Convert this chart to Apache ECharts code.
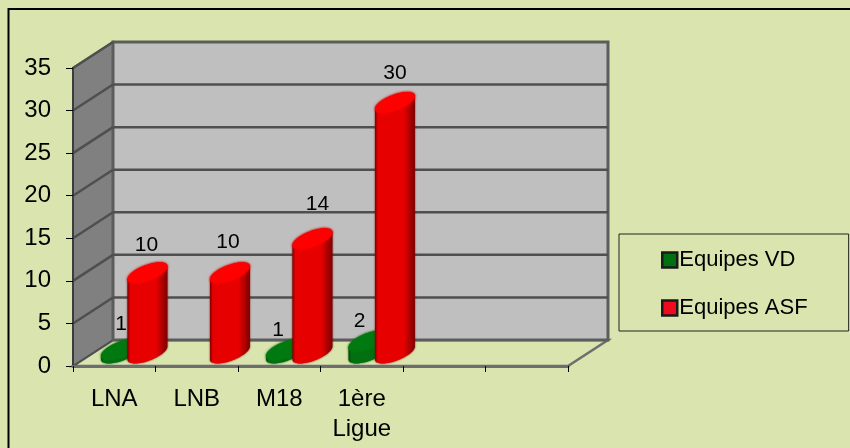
<!DOCTYPE html>
<html>
<head>
<meta charset="utf-8">
<title></title>
<script type="text/javascript" src="https://cdn.jsdelivr.net/npm/echarts@6/dist/echarts.min.js"></script>
<style>
html, body { margin: 0; padding: 0; background: #d9e4ae; }
</style>
</head>
<body>

<div id="main" style="width: 850px;height:448px;"></div>

<script type="text/javascript">

let CATEGORIES = ['LNA', 'LNB', 'M18', '1ère\nLigue', '', ''];
let EQUIPES_VD = [1, null, 1, 2, null, null];
let EQUIPES_ASF = [10, 10, 14, 30, null, null];
let Y_TICKS = [0, 5, 10, 15, 20, 25, 30, 35];
// hand placed labels in the original, [dx, dy] from the default spot
let NUDGE_VD = [[0, 6], null, [-8, 12], [-9, 11]];
let NUDGE_ASF = [[-1, 3], [-2, 0], [5, -4], [0, 2]];

const DEPTH_X = 40, DEPTH_Y = -26;
const TOP_LOSS = 5;
const EL_AX = 0.19, EL_BX = 0.15, EL_BY = 0.127;

function ellipsePoint(c, size, t) {
	// a circle on the floor plane, seen with the same oblique depth as the walls
	return [c[0] + size * EL_AX * Math.cos(t) + size * EL_BX * Math.sin(t), c[1] - size * EL_BY * Math.sin(t)];
}

function ellipsePoints(c, size, from, to) {
	let pts = [];
	for (let i = 0; i <= 40; i++) {
		pts.push(ellipsePoint(c, size, from + (to - from) * i / 40));
	}
	return pts;
}

function cylinder(shift, dark, mid, light, nudges) {
	return function (params, api) {
		let val = api.value(1);
		if (isNaN(val)) return;
		let size = api.size([1, 0])[0];
		let base = api.coord([api.value(0), 0]);
		let top = api.coord([api.value(0), val]);
		let c0 = [base[0] + DEPTH_X / 2 + size * shift, base[1] + DEPTH_Y / 2];
		let c1 = [c0[0], c0[1] - Math.max(base[1] - top[1] - TOP_LOSS, 2)];
		// tangent angle of the silhouette
		let tan = Math.atan2(EL_BX, EL_AX);
		let outline = ellipsePoints(c1, size, tan, tan + Math.PI)
			.concat(ellipsePoints(c0, size, tan + Math.PI, tan + 2 * Math.PI));
		let nudge = nudges[params.dataIndex] || [0, 0];
		return {
			type: 'group',
			children: [{
				type: 'polygon',
				shape: { points: outline },
				style: {
					shadowBlur: 2,
					shadowColor: dark,
					fill: new echarts.graphic.LinearGradient(0, 0, 1, 0, [
						{ offset: 0, color: dark },
						{ offset: 0.07, color: mid },
						{ offset: 0.72, color: mid },
						{ offset: 1, color: dark }
					])
				}
			}, {
				type: 'polygon',
				shape: { points: ellipsePoints(c1, size, 0, Math.PI * 2) },
				style: { fill: light, shadowBlur: 3, shadowColor: light }
			}, {
				type: 'text',
				style: {
					text: String(val),
					x: c1[0] + nudge[0],
					y: c1[1] - 31 + nudge[1],
					align: 'center',
					verticalAlign: 'middle',
					fill: '#000',
					font: '21px "Liberation Sans"'
				}
			}]
		};
	};
}

function renderWalls(params, api) {
	let size = api.size([1, 0])[0];
	let left = api.coord([0, 0])[0] - size / 2;
	let right = api.coord([CATEGORIES.length - 1, 0])[0] + size / 2;
	let y0 = api.coord([0, Y_TICKS[0]])[1];
	let yTop = api.coord([0, Y_TICKS[Y_TICKS.length - 1]])[1];
	let line = { stroke: '#4f4f4f', lineWidth: 2.5 };
	let kids = [{
		type: 'polygon',
		shape: { points: [[left + DEPTH_X, y0 + DEPTH_Y], [right + DEPTH_X, y0 + DEPTH_Y], [right, y0], [left, y0]] },
		style: { fill: '#d9e4ae', stroke: '#6e6e6e', lineWidth: 2.5 }
	}, {
		type: 'polygon',
		shape: { points: [[left, y0], [left + DEPTH_X, y0 + DEPTH_Y], [left + DEPTH_X, yTop + DEPTH_Y], [left, yTop]] },
		style: { fill: '#808080', stroke: '#4f4f4f', lineWidth: 2 }
	}, {
		type: 'polygon',
		shape: { points: [[left + DEPTH_X, y0 + DEPTH_Y], [right + DEPTH_X, y0 + DEPTH_Y], [right + DEPTH_X, yTop + DEPTH_Y], [left + DEPTH_X, yTop + DEPTH_Y]] },
		style: { fill: '#bfbfbf', stroke: '#5c5c5c', lineWidth: 3 }
	}];
	Y_TICKS.forEach((t) => {
		let y = api.coord([0, t])[1];
		if (t > 0 && t < 35) {
			kids.push({ type: 'line', shape: { x1: left + DEPTH_X, y1: y + DEPTH_Y, x2: right + DEPTH_X, y2: y + DEPTH_Y }, style: line });
		}
		if (t > 0) {
			kids.push({ type: 'line', shape: { x1: left, y1: y, x2: left + DEPTH_X, y2: y + DEPTH_Y }, style: line });
		}
	});
	return { type: 'group', children: kids };
}

var myChart = echarts.init(document.getElementById('main'), null, { renderer: 'canvas' });

myChart.setOption({
	animation: false,
	backgroundColor: '#d9e4ae',
	textStyle: { fontFamily: 'Liberation Sans', color: '#000' },
	graphic: [{
		type: 'polyline',
		z: 1,
		shape: { points: [[8.5, 448], [8.5, 9], [850, 9]] },
		style: { fill: 'none', stroke: '#000', lineWidth: 2 }
	}],
	grid: { left: 73, right: 282, top: 68, bottom: 82 },
	legend: {
		left: 619,
		top: 234,
		orient: 'vertical',
		selectedMode: false,
		data: ['Equipes VD', 'Equipes ASF'],
		icon: 'rect',
		itemWidth: 15,
		itemHeight: 15,
		itemGap: 26,
		padding: [15, 41, 12, 42],
		borderColor: '#222',
		borderWidth: 1,
		textStyle: { fontSize: 22, padding: [0, 0, 0, -3], fontFamily: 'Liberation Sans', color: '#000' },
		itemStyle: { borderColor: '#1a1a1a', borderWidth: 2.5 }
	},
	xAxis: {
		type: 'category',
		data: CATEGORIES,
		z: 5,
		axisLine: { lineStyle: { color: '#6e6e6e', width: 3 } },
		axisTick: { show: true, length: 6, alignWithLabel: false, lineStyle: { color: '#000', width: 1 } },
		axisLabel: { fontSize: 24, color: '#000', margin: 18, lineHeight: 30, interval: 0 },
		splitLine: { show: false }
	},
	yAxis: {
		type: 'value',
		min: 0,
		max: 35,
		interval: 5,
		axisLine: { show: true, lineStyle: { color: '#3c3c3c', width: 2 } },
		axisTick: { show: true, length: 7, lineStyle: { color: '#000', width: 1 } },
		axisLabel: { fontSize: 24, color: '#000', margin: 22, padding: [3, 0, 0, 0] },
		splitLine: { show: false }
	},
	series: [{
		type: 'custom',
		name: 'walls',
		silent: true,
		z: 0,
		clip: false,
		data: [[0, 0]],
		encode: { x: 0, y: 1 },
		renderItem: renderWalls
	}, {
		type: 'custom',
		name: 'Equipes VD',
		z: 2,
		clip: false,
		itemStyle: { color: '#007010' },
		encode: { x: 0, y: 1 },
		data: EQUIPES_VD.map((v, i) => [i, v]),
		renderItem: cylinder(-0.16, '#004d00', '#007010', '#007a10', NUDGE_VD)
	}, {
		type: 'custom',
		name: 'Equipes ASF',
		z: 3,
		clip: false,
		itemStyle: { color: '#f00a1e' },
		encode: { x: 0, y: 1 },
		data: EQUIPES_ASF.map((v, i) => [i, v]),
		renderItem: cylinder(0.16, '#7d0000', '#e60000', '#ff0000', NUDGE_ASF)
	}]
});

</script>

</body>
</html>
